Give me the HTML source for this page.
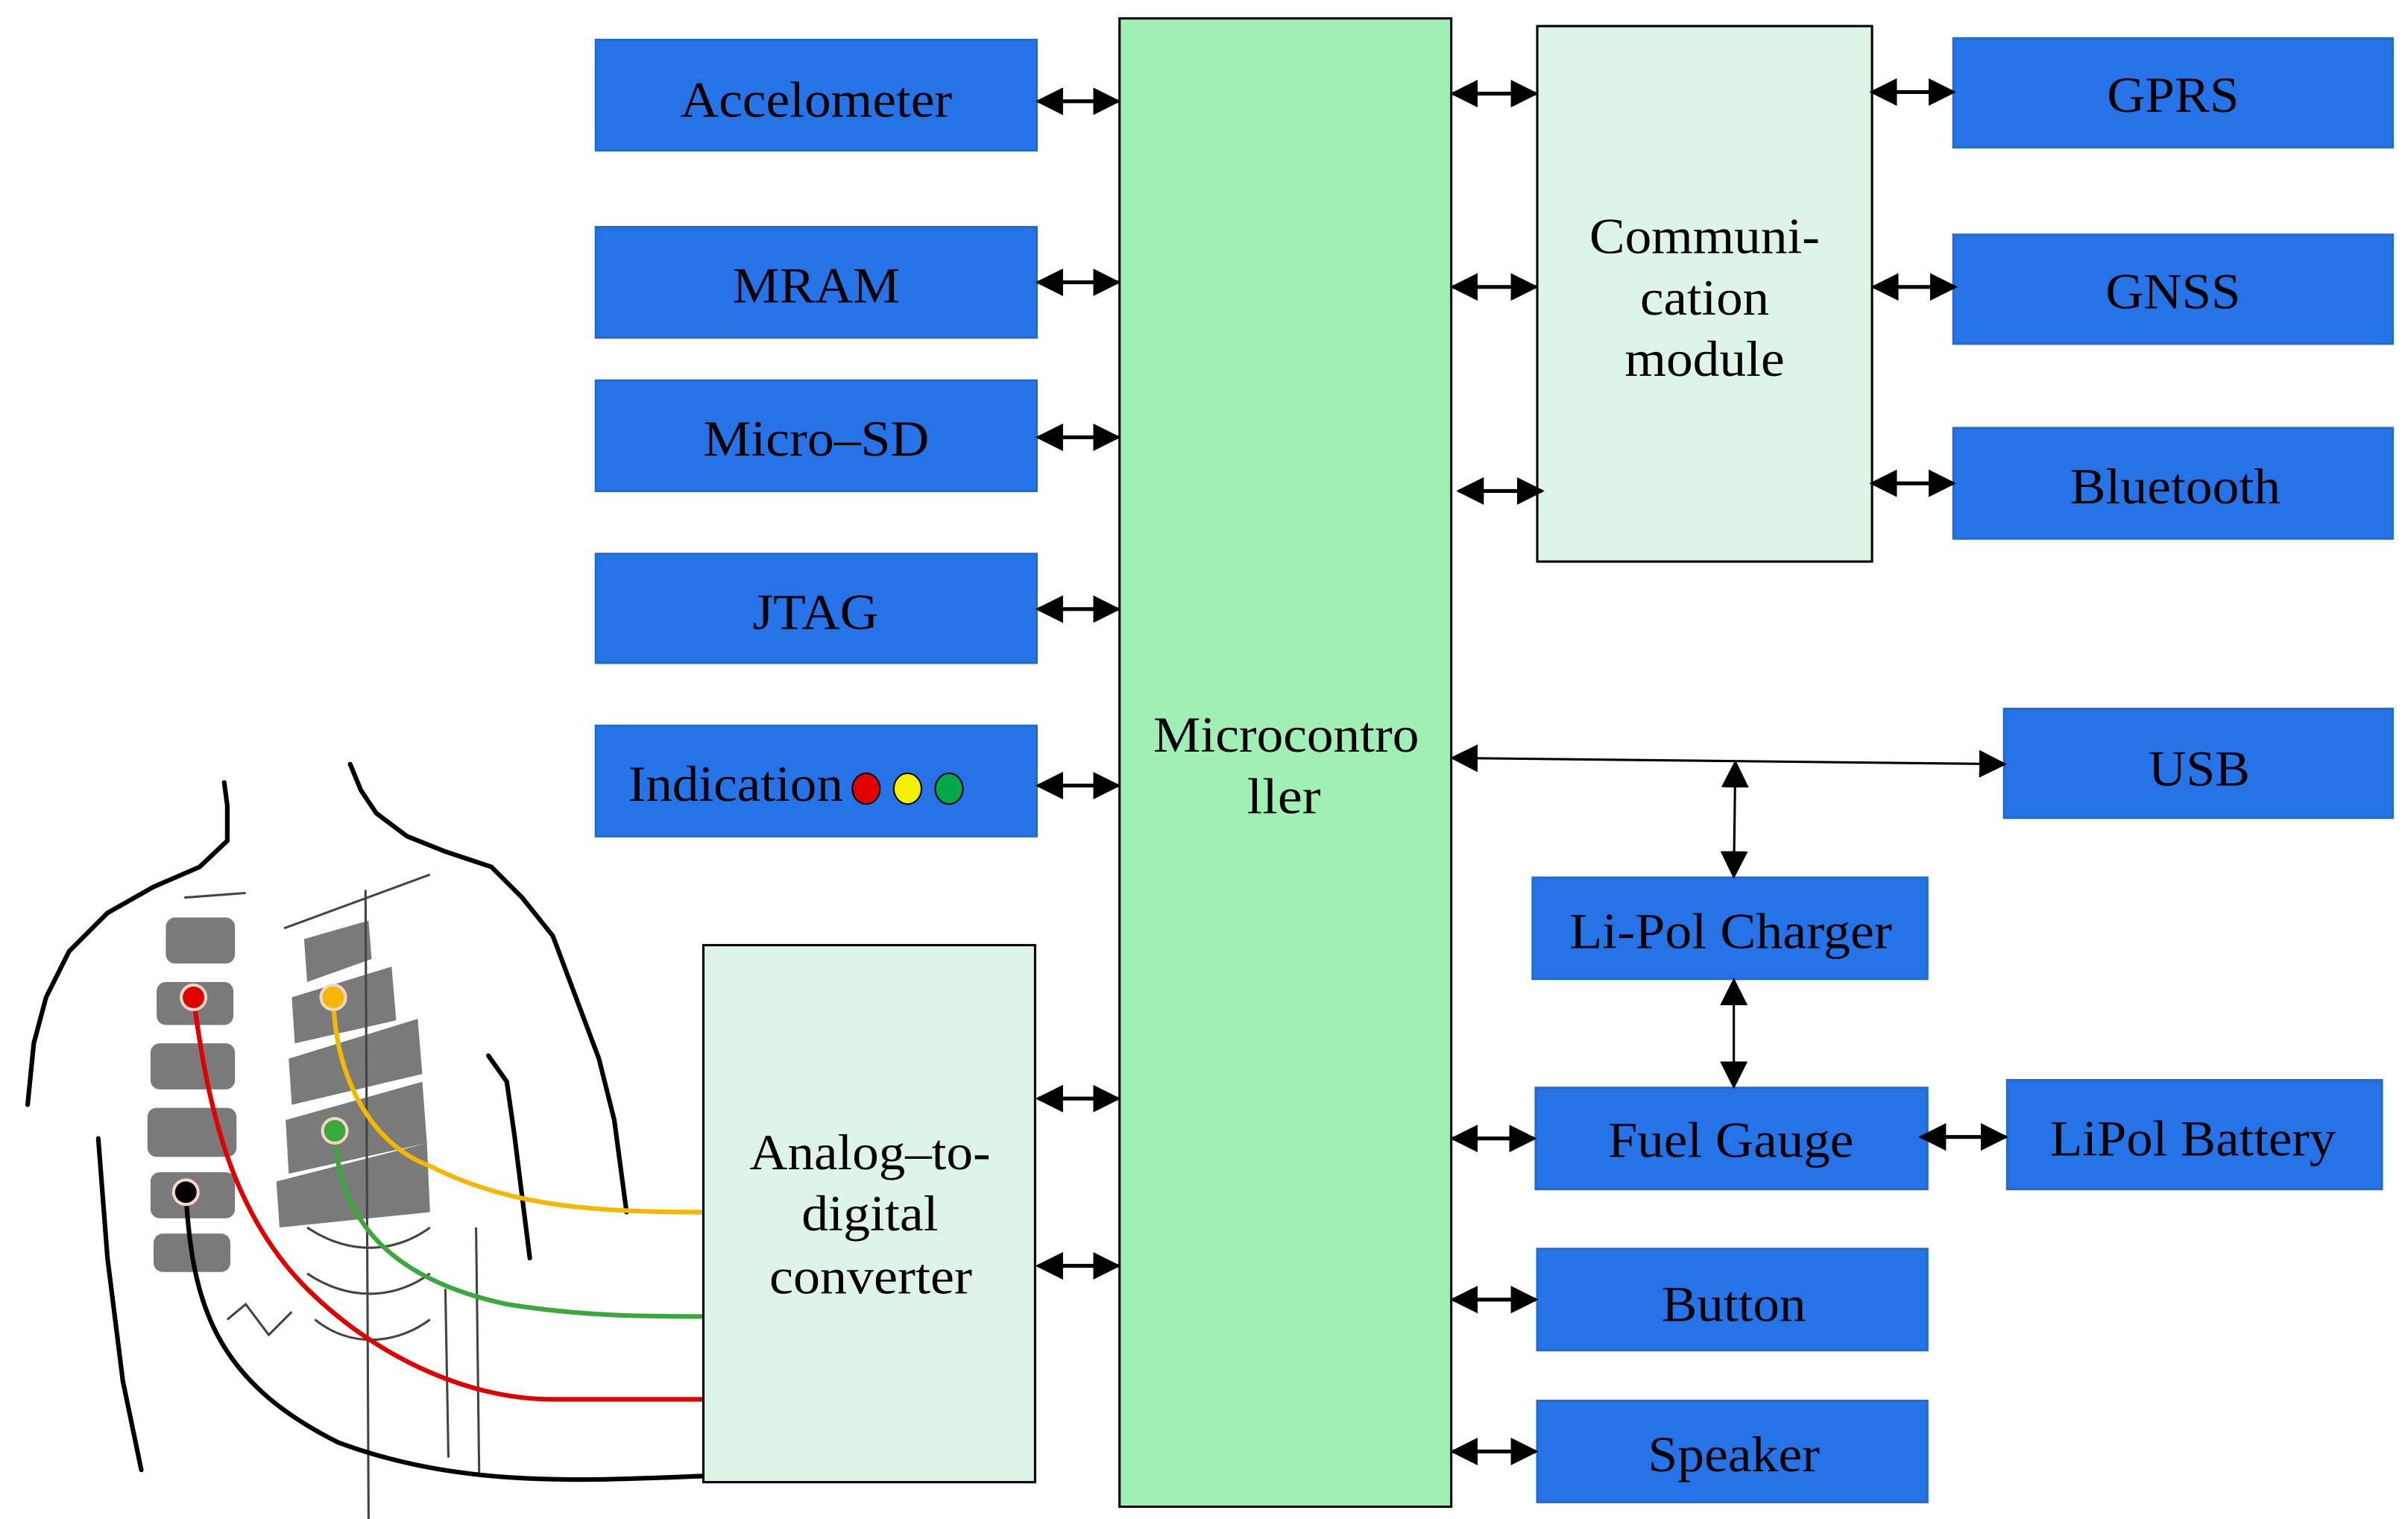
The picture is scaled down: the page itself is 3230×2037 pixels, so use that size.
<!DOCTYPE html>
<html><head><meta charset="utf-8"><style>html,body{margin:0;padding:0;background:#fff}svg{display:block}</style></head>
<body>
<svg width="3230" height="2037" viewBox="0 0 1568 990" preserveAspectRatio="none" xmlns="http://www.w3.org/2000/svg" font-family="Liberation Serif, serif" font-size="33">
<defs>
<marker id="ah" viewBox="0 0 10 10" refX="9" refY="5" markerWidth="7" markerHeight="7" markerUnits="userSpaceOnUse" orient="auto-start-reverse"><path d="M0,0 L10,5 L0,10 z" fill="#000"/></marker>
<marker id="ab" viewBox="0 0 10 10" refX="9" refY="5" markerWidth="18" markerHeight="18" markerUnits="userSpaceOnUse" orient="auto-start-reverse"><path d="M0,0 L10,5 L0,10 z" fill="#000"/></marker>
</defs>
<rect width="1568" height="990" fill="#fff"/>

<!-- body figure -->
<g fill="none" stroke="#000" stroke-width="3" stroke-linecap="round">
<path d="M18,720 L22,680 L30,650 L45,620 L70,595 L100,578 L130,565 L148,548 L148,525 L146,510"/>
<path d="M228,498 L235,515 L245,530 L265,545 L290,555 L320,565 L340,585 L360,610 L375,650 L390,690 L400,730 L408,790"/>
<path d="M64,742 L70,820 L80,900 L92,958"/>
<path d="M318,688 L330,705 L335,740 L340,780 L345,820"/>
</g>
<g fill="#7a7a7a">
<rect x="108" y="598" width="45" height="30" rx="6"/>
<rect x="102" y="640" width="50" height="28" rx="6"/>
<rect x="98" y="680" width="55" height="30" rx="6"/>
<rect x="96" y="722" width="58" height="32" rx="6"/>
<rect x="98" y="764" width="55" height="30" rx="6"/>
<rect x="100" y="804" width="50" height="25" rx="6"/>
<path d="M198,612 L240,600 L242,625 L200,640 z"/>
<path d="M190,650 L255,630 L258,665 L192,680 z"/>
<path d="M188,690 L272,664 L275,700 L190,720 z"/>
<path d="M186,730 L275,705 L278,745 L188,765 z"/>
<path d="M180,770 L278,745 L280,790 L182,800 z"/>
</g>
<g stroke="#444" stroke-width="1.5" fill="none">
<path d="M238,580 L240,990"/><path d="M290,840 L292,950"/><path d="M310,800 L312,960"/>
<path d="M148,860 L160,850 L175,870 L190,855"/>
<path d="M200,800 C230,820 260,815 280,800"/><path d="M200,830 C230,850 260,845 280,830"/><path d="M205,860 C230,880 260,875 280,860"/>
<path d="M120,585 L160,582"/><path d="M185,605 L280,570"/>
</g>
<!-- wires -->
<g fill="none" stroke-width="3">
<path d="M217,650 C218,700 240,745 280,760 C330,785 380,790 458,790" stroke="#f5b800"/>
<path d="M218,737 C220,800 260,835 330,850 C380,858 420,858 458,858" stroke="#3aa83a"/>
<path d="M126,650 C135,720 150,790 200,840 C240,880 300,912 360,912 L458,912" stroke="#e00000"/>
<path d="M121,777 C125,850 140,900 220,940 C300,970 380,965 458,962" stroke="#000"/>
</g>
<g stroke="#f5d5c5" stroke-width="2">
<circle cx="126" cy="650" r="8" fill="#e00000"/>
<circle cx="217" cy="650" r="8" fill="#f5b800"/>
<circle cx="218" cy="737" r="8" fill="#3aa83a"/>
<circle cx="121" cy="777" r="8" fill="#000"/>
</g>

<!-- main boxes -->
<rect x="729" y="12" width="216" height="970" fill="#a0efb4" stroke="#000" stroke-width="1.5"/>
<rect x="1001" y="17" width="218" height="349" fill="#dcf5e6" stroke="#000" stroke-width="1.5"/>
<rect x="458" y="616" width="216" height="350" fill="#dcf5e6" stroke="#000" stroke-width="1.5"/>

<g fill="#2673e8" stroke="#1f6ccf" stroke-width="1.5">
<rect x="388" y="26" width="287" height="72"/>
<rect x="388" y="148" width="287" height="72"/>
<rect x="388" y="248" width="287" height="72"/>
<rect x="388" y="361" width="287" height="71"/>
<rect x="388" y="473" width="287" height="72"/>
<rect x="1272" y="25" width="286" height="71"/>
<rect x="1272" y="153" width="286" height="71"/>
<rect x="1272" y="279" width="286" height="72"/>
<rect x="1305" y="462" width="253" height="71"/>
<rect x="998" y="572" width="257" height="66"/>
<rect x="1000" y="709" width="255" height="66"/>
<rect x="1307" y="704" width="244" height="71"/>
<rect x="1001" y="814" width="254" height="66"/>
<rect x="1001" y="913" width="254" height="66"/>
</g>

<!-- text -->
<g fill="#000">
<text x="443" y="76" textLength="177" lengthAdjust="spacingAndGlyphs">Accelometer</text>
<text x="477" y="197" textLength="109" lengthAdjust="spacingAndGlyphs">MRAM</text>
<text x="458" y="297" textLength="147" lengthAdjust="spacingAndGlyphs">Micro–SD</text>
<text x="490" y="410" textLength="82" lengthAdjust="spacingAndGlyphs">JTAG</text>
<text x="409" y="522" textLength="140" lengthAdjust="spacingAndGlyphs">Indication</text>
<text x="751" y="490" textLength="173" lengthAdjust="spacingAndGlyphs">Microcontro</text>
<text x="812" y="530" textLength="48" lengthAdjust="spacingAndGlyphs">ller</text>
<text x="1035" y="165" textLength="150" lengthAdjust="spacingAndGlyphs">Communi-</text>
<text x="1068" y="205" textLength="84" lengthAdjust="spacingAndGlyphs">cation</text>
<text x="1058" y="245" textLength="104" lengthAdjust="spacingAndGlyphs">module</text>
<text x="1372" y="73" textLength="86" lengthAdjust="spacingAndGlyphs">GPRS</text>
<text x="1371" y="201" textLength="88" lengthAdjust="spacingAndGlyphs">GNSS</text>
<text x="1348" y="328" textLength="137" lengthAdjust="spacingAndGlyphs">Bluetooth</text>
<text x="1399" y="512" textLength="66" lengthAdjust="spacingAndGlyphs">USB</text>
<text x="1022" y="618" textLength="210" lengthAdjust="spacingAndGlyphs">Li-Pol Charger</text>
<text x="1047" y="754" textLength="160" lengthAdjust="spacingAndGlyphs">Fuel Gauge</text>
<text x="1335" y="753" textLength="186" lengthAdjust="spacingAndGlyphs">LiPol Battery</text>
<text x="1082" y="861" textLength="94" lengthAdjust="spacingAndGlyphs">Button</text>
<text x="1073" y="959" textLength="112" lengthAdjust="spacingAndGlyphs">Speaker</text>
<text x="488" y="762" textLength="157" lengthAdjust="spacingAndGlyphs">Analog–to-</text>
<text x="522" y="802" textLength="89" lengthAdjust="spacingAndGlyphs">digital</text>
<text x="501" y="843" textLength="132" lengthAdjust="spacingAndGlyphs">converter</text>
</g>
<g stroke="#000" stroke-width="1">
<ellipse cx="564" cy="514" rx="9" ry="10" fill="#e00000"/>
<ellipse cx="591" cy="514" rx="9" ry="10" fill="#f5f000"/>
<ellipse cx="618" cy="514" rx="9" ry="10" fill="#00a84a"/>
</g>

<!-- arrows -->
<g stroke="#000" stroke-width="2.5" marker-start="url(#ab)" marker-end="url(#ab)">
<line x1="676" y1="66" x2="728" y2="66"/>
<line x1="676" y1="184" x2="728" y2="184"/>
<line x1="676" y1="285" x2="728" y2="285"/>
<line x1="676" y1="397" x2="728" y2="397"/>
<line x1="676" y1="512" x2="728" y2="512"/>
<line x1="676" y1="716" x2="728" y2="716"/>
<line x1="676" y1="825" x2="728" y2="825"/>
<line x1="946" y1="61" x2="1000" y2="61"/>
<line x1="946" y1="187" x2="1000" y2="187"/>
<line x1="950" y1="320" x2="1004" y2="320"/>
<line x1="1219" y1="60" x2="1272" y2="60"/>
<line x1="1220" y1="187" x2="1273" y2="187"/>
<line x1="1219" y1="315" x2="1272" y2="315"/>
<line x1="946" y1="742" x2="999" y2="742"/>
<line x1="1251" y1="741" x2="1306" y2="741"/>
<line x1="946" y1="847" x2="1000" y2="847"/>
<line x1="946" y1="946" x2="1000" y2="946"/>
</g>
<g stroke="#000" stroke-width="1.5" marker-start="url(#ab)" marker-end="url(#ab)">
<line x1="946" y1="494" x2="1305" y2="498"/>
<line x1="1130" y1="497" x2="1129" y2="571"/>
<line x1="1129" y1="639" x2="1129" y2="708"/>
</g>
</svg>
</body></html>
